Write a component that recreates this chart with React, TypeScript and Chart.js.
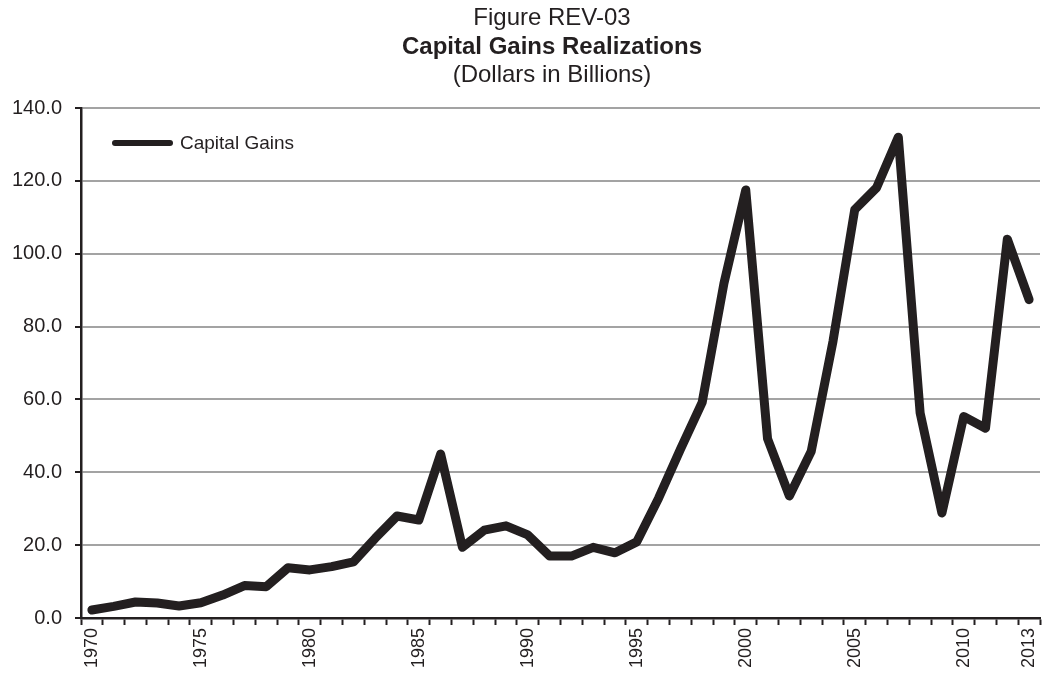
import React, { useEffect, useRef } from "react";
import { Chart, registerables } from "chart.js";

Chart.register(...registerables);

const years: string[] = [
  "1970", "1971", "1972", "1973", "1974", "1975", "1976", "1977", "1978", "1979",
  "1980", "1981", "1982", "1983", "1984", "1985", "1986", "1987", "1988", "1989",
  "1990", "1991", "1992", "1993", "1994", "1995", "1996", "1997", "1998", "1999",
  "2000", "2001", "2002", "2003", "2004", "2005", "2006", "2007", "2008", "2009",
  "2010", "2011", "2012", "2013",
];

const capitalGains: number[] = [
  2.2, 3.2, 4.4, 4.1, 3.3, 4.2, 6.3, 8.9, 8.6, 13.8,
  13.2, 14.1, 15.4, 21.9, 28.0, 26.9, 45.0, 19.4, 24.1, 25.3,
  22.8, 17.0, 17.0, 19.4, 17.9, 20.9, 32.9, 46.3, 59.2, 91.9,
  117.5, 49.2, 33.5, 45.7, 75.9, 112.1, 118.1, 132.0, 56.3, 28.8,
  55.3, 52.1, 104.0, 87.4,
];

const shownYearLabels: string[] = [
  "1970", "1975", "1980", "1985", "1990", "1995", "2000", "2005", "2010", "2013",
];

const titleLines: string[] = [
  "Figure REV-03",
  "Capital Gains Realizations",
  "(Dollars in Billions)",
];

const seriesLabel = "Capital Gains";
const FONT = "'Liberation Sans', Arial, sans-serif";
const LINE_COLOR = "#231f20";

const titlePlugin = {
  id: "customTitle",
  afterDraw(chart: any) {
    const ctx = chart.ctx as CanvasRenderingContext2D;
    ctx.save();
    ctx.fillStyle = "#231f20";
    ctx.textAlign = "center";
    ctx.textBaseline = "middle";
    const cx = 552;
    const ys = [18, 47, 75];
    const bold = [false, true, false];
    titleLines.forEach((t, i) => {
      ctx.font = `${bold[i] ? "bold " : ""}24px ${FONT}`;
      ctx.fillText(t, cx, ys[i]);
    });
    ctx.restore();
  },
};

const legendPlugin = {
  id: "customLegend",
  afterDraw(chart: any) {
    const ctx = chart.ctx as CanvasRenderingContext2D;
    const ds = chart.data.datasets[0];
    const area = chart.chartArea;
    const x0 = area.left + 34;
    const y = area.top + 35;
    ctx.save();
    ctx.strokeStyle = ds.borderColor;
    ctx.lineWidth = 6;
    ctx.lineCap = "round";
    ctx.beginPath();
    ctx.moveTo(x0, y);
    ctx.lineTo(x0 + 55, y);
    ctx.stroke();
    ctx.fillStyle = "#231f20";
    ctx.font = `19px ${FONT}`;
    ctx.textAlign = "left";
    ctx.textBaseline = "middle";
    ctx.fillText(ds.label, x0 + 65, y + 1);
    ctx.restore();
  },
};

export default function App() {
  const ref = useRef<HTMLCanvasElement | null>(null);

  useEffect(() => {
    if (!ref.current) return;
    const chart = new Chart(ref.current, {
      type: "line",
      data: {
        labels: years,
        datasets: [
          {
            label: seriesLabel,
            data: capitalGains,
            borderColor: LINE_COLOR,
            backgroundColor: LINE_COLOR,
            borderWidth: 9,
            pointRadius: 0,
            tension: 0,
            borderCapStyle: "round",
            borderJoinStyle: "round",
            fill: false,
          },
        ],
      },
      options: {
        responsive: false,
        animation: false,
        layout: { padding: { top: 108, right: 4, left: 0, bottom: 0 } },
        plugins: {
          legend: { display: false },
          title: { display: false },
          tooltip: { enabled: false },
        },
        scales: {
          x: {
            type: "category",
            offset: true,
            afterFit: (scale: any) => {
              scale.height = 55;
              scale.paddingLeft = 0;
              scale.paddingRight = 0;
            },
            grid: {
              offset: true,
              drawOnChartArea: false,
              drawTicks: true,
              tickLength: 7,
              tickColor: "#231f20",
              tickWidth: 2,
            },
            border: { color: "#231f20", width: 2.5 },
            ticks: {
              autoSkip: false,
              maxRotation: 90,
              minRotation: 90,
              padding: 3,
              color: "#231f20",
              font: { family: FONT, size: 18 },
              callback: function (this: any, value: any) {
                const lab = years[value as number];
                return shownYearLabels.includes(lab) ? lab : "";
              },
            },
          },
          y: {
            min: 0,
            max: 140,
            afterFit: (scale: any) => {
              scale.width = 81;
              scale.paddingTop = 0;
              scale.paddingBottom = 0;
            },
            grid: {
              color: "#a3a3a3",
              lineWidth: 2,
              drawTicks: true,
              tickLength: 6,
              tickColor: "#231f20",
              tickWidth: 2,
            },
            border: { color: "#231f20", width: 2.5 },
            ticks: {
              stepSize: 20,
              padding: 13,
              color: "#231f20",
              font: { family: FONT, size: 20 },
              callback: (v: any) => Number(v).toFixed(1),
            },
          },
        },
      },
      plugins: [titlePlugin, legendPlugin],
    } as any);
    return () => chart.destroy();
  }, []);

  return (
    <div style={{ position: "fixed", left: 0, top: 0, width: 1044, height: 673, background: "#fff" }}>
      <canvas ref={ref} width={1044} height={673} style={{ display: "block" }} />
    </div>
  );
}
